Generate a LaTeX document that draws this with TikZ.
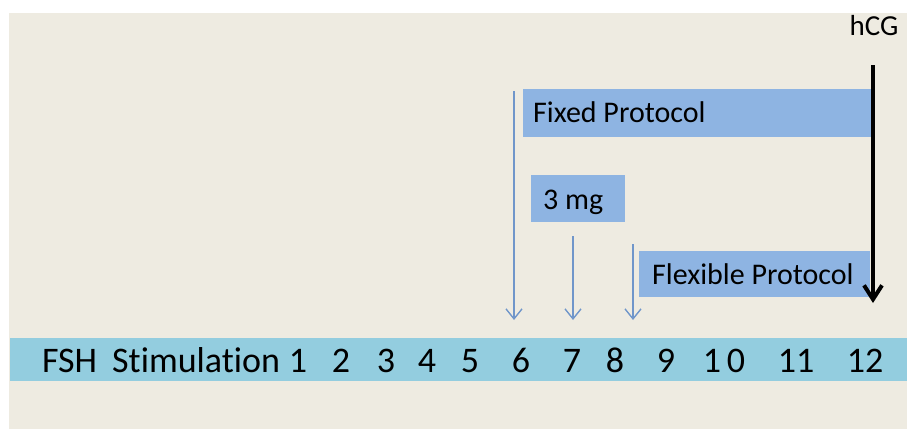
\documentclass[tikz,border=0pt]{standalone}
\usepackage{fontspec}
\setmainfont[Ligatures=NoCommon]{Carlito}
\usetikzlibrary{arrows.meta}
\definecolor{bgbeige}{HTML}{EEEBE1}
\definecolor{barblue}{HTML}{93CDDF}
\definecolor{boxblue}{HTML}{8EB4E2}
\definecolor{thinarrow}{HTML}{7096CA}
\tikzset{
  protobox/.style={fill=boxblue, draw=none, inner sep=0pt, anchor=north west},
  protolabel/.style={font=\fontsize{30}{30}\selectfont, anchor=base west, inner sep=0pt},
  barlabel/.style={font=\fontsize{36}{36}\selectfont, anchor=base, inner sep=0pt},
  thinarr/.style={draw=thinarrow, line width=1.4pt, -{Straight Barb[length=10pt,width=16pt,line width=1.4pt]}},
  hcgarr/.style={draw=black, line width=4pt, -{Straight Barb[length=14pt,width=18pt,line width=4pt]}}
}
\begin{document}
\begin{tikzpicture}[x=1pt,y=-1pt]
\useasboundingbox (0,0) rectangle (907,431);
\fill[white] (0,0) rectangle (907,431);
\fill[bgbeige] (9,13) rectangle (907,429);
% bar
\fill[barblue] (10,338) rectangle (907,381);
\node[barlabel, anchor=base west] (fsh) at (42,372) {FSH};
\node[barlabel, anchor=base west] (stim) at (112,372) {Stimulation};
\node[barlabel] (d1) at (298,372) {1};
\node[barlabel] (d2) at (341,372) {2};
\node[barlabel] (d3) at (386,372) {3};
\node[barlabel] (d4) at (427,372) {4};
\node[barlabel] (d5) at (470,372) {5};
\node[barlabel] (d6) at (521,372) {6};
\node[barlabel] (d7) at (572,372) {7};
\node[barlabel] (d8) at (615,372) {8};
\node[barlabel] (d9) at (666,372) {9};
\node[barlabel] (d10) at (724,372) {1\,0};
\node[barlabel] (d11) at (796,372) {11};
\node[barlabel] (d12) at (865,372) {12};
% boxes
\path[fill=boxblue] (523,89) rectangle (873,137);
\node[protolabel] (fixed) at (533,122) {Fixed Protocol};
\path[fill=boxblue] (531,175) rectangle (625,222);
\node[protolabel] (mg) at (543,209) {3 mg};
\path[fill=boxblue] (639,251) rectangle (870,297);
\node[protolabel] (flex) at (652,284) {Flexible Protocol};
% thin arrows
\coordinate (a1s) at (514,91);
\coordinate (a1e) at (514,320);
\coordinate (a2s) at (573,236);
\coordinate (a2e) at (573,320);
\coordinate (a3s) at (633,244);
\coordinate (a3e) at (633,320);
\draw[thinarr] (a1s) -- (a1e);
\draw[thinarr] (a2s) -- (a2e);
\draw[thinarr] (a3s) -- (a3e);
% hCG
\node[font=\fontsize{29}{29}\selectfont, anchor=base, inner sep=0pt] (hcg) at (874,35) {hCG};
\coordinate (hs) at (873,65);
\coordinate (he) at (873,303);
\draw[hcgarr] (hs) -- (he);
\end{tikzpicture}
\end{document}
